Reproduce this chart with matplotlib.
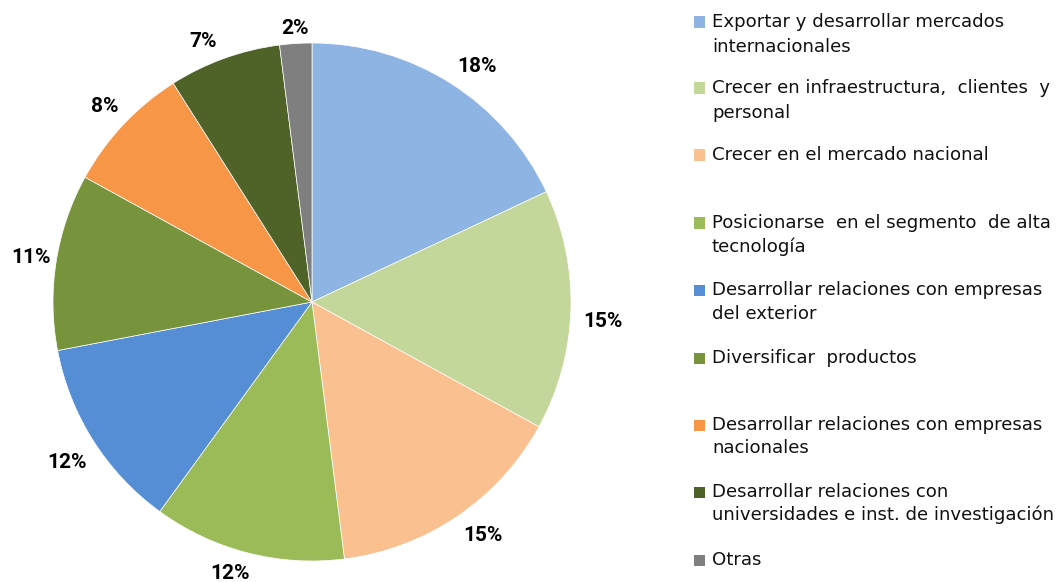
import matplotlib
matplotlib.use("Agg")
import numpy as np
import matplotlib.pyplot as plt
from matplotlib.patches import Rectangle

categories = [
    "Exportar y desarrollar mercados\ninternacionales",
    "Crecer en infraestructura,  clientes  y\npersonal",
    "Crecer en el mercado nacional",
    "Posicionarse  en el segmento  de alta\ntecnología",
    "Desarrollar relaciones con empresas\ndel exterior",
    "Diversificar  productos",
    "Desarrollar relaciones con empresas\nnacionales",
    "Desarrollar relaciones con\nuniversidades e inst. de investigación",
    "Otras",
]
values = [18, 15, 15, 12, 12, 11, 8, 7, 2]
colors = ["#8EB4E3", "#C4D79B", "#FAC090", "#9BBB59", "#558ED5",
          "#77933C", "#F79646", "#4F6228", "#7F7F7F"]

label_dist = [1.11, 1.125, 1.116, 1.093, 1.131, 1.10, 1.10, 1.089, 1.058]
label_nudge = [-2.6, -2.0, 2.0, -2.4, 0.9, 0, 0, 2.9, 0]

W, H = 1063, 582
fig = plt.figure(figsize=(W / 100, H / 100), dpi=100)
cx, cy, r = 312, 302, 259
ax = fig.add_axes([(cx - r) / W, (H - cy - r) / H, 2 * r / W, 2 * r / H])
wedges, texts = ax.pie(
    values, colors=colors, startangle=90, counterclock=False, radius=1,
    wedgeprops=dict(linewidth=0.5, edgecolor="white"),
)
total = sum(values)
for w, v, d, nd in zip(wedges, values, label_dist, label_nudge):
    ang = np.deg2rad((w.theta1 + w.theta2) / 2 + nd)
    ax.text(d * np.cos(ang), d * np.sin(ang), f"{v / total * 100:.0f}%",
            ha="center", va="center", fontsize=15, fontweight="bold",
            family="Roboto", color="black")
ax.set_xlim(-1, 1)
ax.set_ylim(-1, 1)
ax.set_aspect("equal")
ax.axis("off")

# legend drawn manually
line_ys = [(22, 47), (88, 113), (155,), (223, 247), (290, 314), (358,),
           (425, 448), (492, 515), (560,)]
sq = 11
for cat, col, ys in zip(categories, colors, line_ys):
    lines = cat.split("\n")
    fig.patches.append(Rectangle((694 / W, (H - ys[0] - sq / 2) / H), sq / W, sq / H,
                                 transform=fig.transFigure, facecolor=col,
                                 edgecolor="none"))
    for ln, y in zip(lines, ys):
        fig.text(712 / W, (H - y) / H, ln, fontsize=13.1, family="DejaVu Sans",
                 va="center", ha="left", color="#111111")

fig.savefig("out.png", dpi=100)
